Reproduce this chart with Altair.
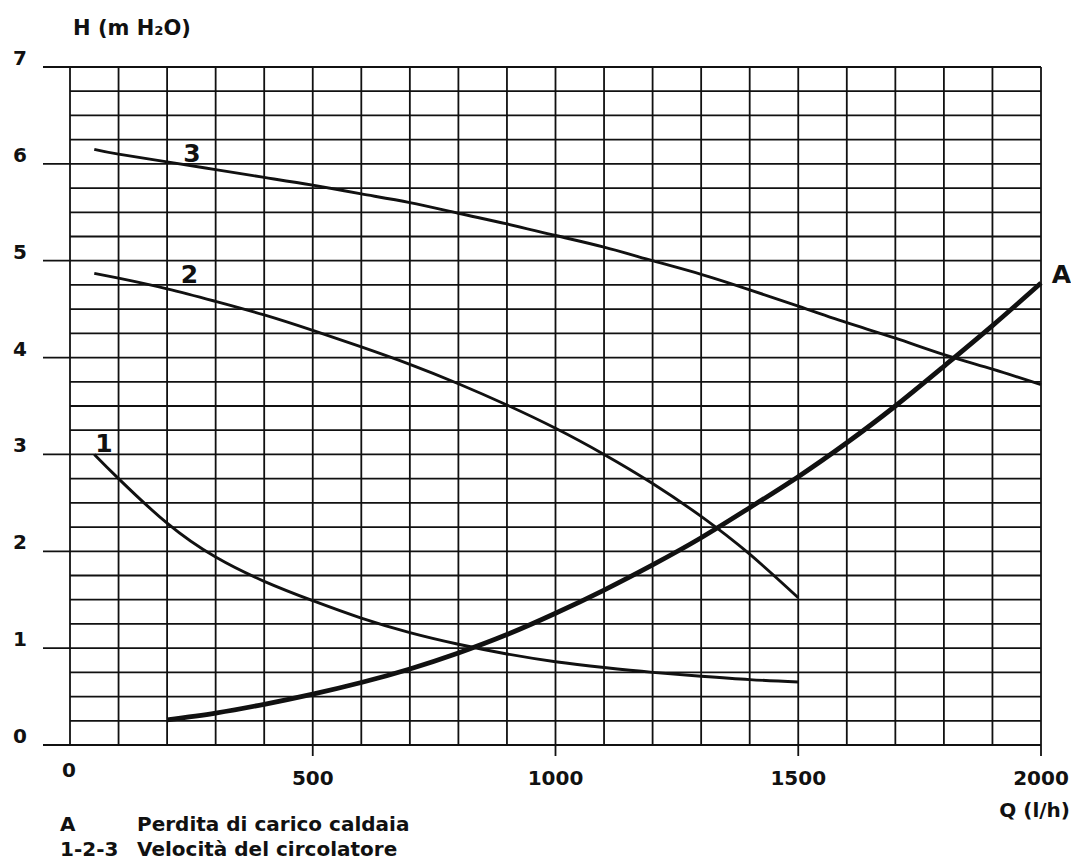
import altair as alt
import pandas as pd

# ---------------- data ----------------
q3 = [50, 100, 200, 300, 400, 500, 600, 700, 800, 900, 1000, 1100, 1200, 1300, 1400, 1500, 1600, 1700, 1800, 1900, 2000]
h3 = [6.15, 6.10, 6.02, 5.94, 5.86, 5.78, 5.69, 5.60, 5.49, 5.38, 5.26, 5.14, 5.00, 4.86, 4.70, 4.53, 4.36, 4.20, 4.03, 3.88, 3.72]

q2 = [50, 100, 200, 300, 400, 500, 600, 700, 800, 900, 1000, 1100, 1200, 1300, 1400, 1500]
h2 = [4.87, 4.82, 4.71, 4.58, 4.44, 4.28, 4.11, 3.93, 3.73, 3.51, 3.27, 3.00, 2.70, 2.36, 1.97, 1.52]

q1 = [50, 100, 200, 300, 400, 500, 600, 700, 800, 900, 1000, 1100, 1200, 1300, 1400, 1500]
h1 = [3.00, 2.75, 2.29, 1.94, 1.69, 1.49, 1.31, 1.16, 1.04, 0.94, 0.86, 0.80, 0.75, 0.71, 0.675, 0.65]

qA = [200, 300, 400, 500, 600, 700, 800, 900, 1000, 1100, 1200, 1300, 1400, 1500, 1600, 1700, 1800, 1900, 2000]
hA = [0.26, 0.33, 0.42, 0.525, 0.645, 0.785, 0.95, 1.14, 1.36, 1.60, 1.86, 2.14, 2.45, 2.77, 3.12, 3.50, 3.91, 4.33, 4.77]

x_grid = list(range(0, 2001, 100))
y_grid = [i / 4 for i in range(29)]
y_ticks = [0, 1, 2, 3, 4, 5, 6, 7]
x_ticks = [0, 500, 1000, 1500, 2000]

label_text = ["1", "2", "3", "A"]
label_q = [70, 246, 251, 2042]
label_h = [3.02, 4.77, 6.02, 4.77]

legend_keys = ["A", "1-2-3"]
legend_desc = ["Perdita di carico caldaia", "Velocità del circolatore"]

y_title = "H (m H\u2082O)"
x_title = "Q (l/h)"

# ---------------- tables ----------------
curves = pd.concat([
    pd.DataFrame({"serie": "3", "Q": q3, "H": h3}),
    pd.DataFrame({"serie": "2", "Q": q2, "H": h2}),
    pd.DataFrame({"serie": "1", "Q": q1, "H": h1}),
])
curveA = pd.DataFrame({"serie": "A", "Q": qA, "H": hA})
xg = pd.DataFrame({"Q": x_grid, "major": [v % 500 == 0 for v in x_grid]})
yg = pd.DataFrame({"H": y_grid, "major": [float(v).is_integer() for v in y_grid]})
yt = pd.DataFrame({"H": y_ticks, "lab": [str(v) for v in y_ticks]})
xt = pd.DataFrame({"Q": x_ticks, "lab": [str(v) for v in x_ticks]})
labs = pd.DataFrame({"t": label_text, "Q": label_q, "H": label_h})
leg = pd.DataFrame({"k": legend_keys, "d": legend_desc, "row": [0, 1]})
titles = pd.DataFrame({"yt": [y_title], "xt": [x_title]})

FONT = "DejaVu Sans"
INK = "#111111"

xs = alt.Scale(domain=[0, 2000], nice=False, zero=False)
ys = alt.Scale(domain=[0, 7], nice=False, zero=False)


def X(f):
    return alt.X(f, type="quantitative", scale=xs, axis=None)


def Y(f):
    return alt.Y(f, type="quantitative", scale=ys, axis=None)


def txt(**kw):
    base = dict(font=FONT, fontWeight="bold", fontSize=20, color=INK, baseline="alphabetic")
    base.update(kw)
    return base


vgrid = alt.Chart(xg).transform_calculate(top="7", bot="0").mark_rule(
    color=INK, strokeWidth=1.8
).encode(x=X("Q"), y=Y("top"), y2="bot:Q")

vticks = alt.Chart(xg).transform_filter("datum.major && datum.Q > 0").transform_calculate(
    bot="0"
).mark_rule(color=INK, strokeWidth=1.8, y2Offset=11).encode(x=X("Q"), y=Y("bot"), y2="bot:Q")

hgrid = alt.Chart(yg).transform_filter("!datum.major").transform_calculate(
    left="0", right="2000"
).mark_rule(color=INK, strokeWidth=1.8).encode(y=Y("H"), x=X("left"), x2="right:Q")

hmajor = alt.Chart(yg).transform_filter("datum.major").transform_calculate(
    left="0", right="2000"
).mark_rule(color=INK, strokeWidth=1.8, xOffset=-27).encode(y=Y("H"), x=X("left"), x2="right:Q")

lines = alt.Chart(curves).mark_line(color=INK, strokeWidth=2.9, interpolate="natural").encode(
    x=X("Q"), y=Y("H"), detail="serie:N"
)
lineA = alt.Chart(curveA).mark_line(color=INK, strokeWidth=4.8, interpolate="natural").encode(
    x=X("Q"), y=Y("H")
)

curve_labels = alt.Chart(labs).mark_text(**txt(fontSize=25, align="center")).encode(
    x=X("Q"), y=Y("H"), text="t:N"
)

ylabels = alt.Chart(yt).transform_calculate(ax="0").mark_text(
    **txt(align="center", dx=-50, dy=-2)
).encode(x=X("ax"), y=Y("H"), text="lab:N")

xlabels = alt.Chart(xt).transform_filter("datum.Q > 0").transform_calculate(ay="0").mark_text(
    **txt(align="center", dy=40)
).encode(x=X("Q"), y=Y("ay"), text="lab:N")

xlabel0 = alt.Chart(xt).transform_filter("datum.Q == 0").transform_calculate(ay="0").mark_text(
    **txt(align="center", dy=32, dx=-1)
).encode(x=X("Q"), y=Y("ay"), text="lab:N")

ytitle = alt.Chart(titles).transform_calculate(ax="0", ay="7").mark_text(
    **txt(fontSize=21, align="left", dx=3, dy=-32)
).encode(x=X("ax"), y=Y("ay"), text="yt:N")

xtitle = alt.Chart(titles).transform_calculate(ax="2000", ay="0").mark_text(
    **txt(align="right", dx=29, dy=72)
).encode(x=X("ax"), y=Y("ay"), text="xt:N")

leg_layers = []
for r, dyv in [(0, 86), (1, 111)]:
    base = alt.Chart(leg).transform_filter(f"datum.row == {r}").transform_calculate(ax="0", ay="0")
    leg_layers.append(base.mark_text(**txt(align="left", dx=-10, dy=dyv)).encode(
        x=X("ax"), y=Y("ay"), text="k:N"))
    leg_layers.append(base.mark_text(**txt(align="left", dx=67, dy=dyv)).encode(
        x=X("ax"), y=Y("ay"), text="d:N"))

chart = alt.layer(
    vgrid, vticks, hgrid, hmajor, lines, lineA, curve_labels,
    ylabels, xlabels, xlabel0, ytitle, xtitle, *leg_layers,
).properties(
    width=971, height=678,
    autosize=alt.AutoSizeParams(type="none"),
    padding={"left": 62, "top": 59, "right": 30, "bottom": 115},
    background="white",
).configure_view(strokeWidth=0)

chart.save("out.html", embed_options={"renderer": "svg", "actions": False})
